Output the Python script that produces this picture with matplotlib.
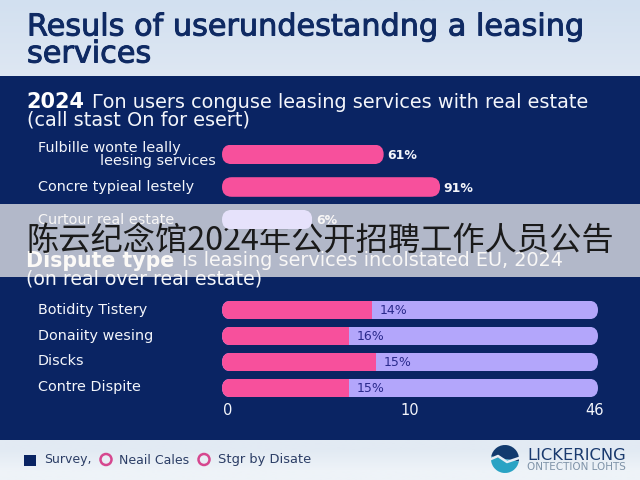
import numpy as np
import matplotlib
matplotlib.use("Agg")
import matplotlib.pyplot as plt
import matplotlib.patheffects as pe
from matplotlib.patches import FancyBboxPatch, Rectangle, Circle, Wedge
from matplotlib.transforms import IdentityTransform

W, H = 640, 480
NAVY = "#0a2463"; PINK = "#f7509c"; LAV = "#b3a6fb"; PALE = "#e6e2fb"; WHITE = "#f4f6fb"

title_lines = ["Resuls of userundestandng a leasing", "services"]
sub1_bold = "2024"
sub1_rest = "\u0393on users conguse leasing services with real estate"
sub1_line2 = "(call stast On for esert)"
cats1 = ["Fulbille wonte leally", "Concre typieal lestely", "Curtour real estate"]
vals1 = [43, 58, 24]
labels1 = ["61%", "91%", "6%"]
colors1 = [PINK, PINK, PALE]
sub2_bold = "Dispute type"
sub2_rest = "is leasing services incolstated EU, 2024"
sub2_line2 = "(on real over real estate)"
cats2 = ["Botidity Tistery", "Donaiity wesing", "Discks", "Contre Dispite"]
vals2 = [40, 33.8, 41, 33.8]
labels2 = ["14%", "16%", "15%", "15%"]
track2 = [100, 100, 100, 100]
ticks2 = [1.5, 50, 99]
ticklabels2 = ["0", "10", "46"]
legend_items = ["Survey,", "Neail Cales", "Stgr by Disate"]
banner = "陈云纪念馆2024年公开招聘工作人员公告"

fig = plt.figure(figsize=(6.4, 4.8), dpi=100)
plt.rcParams["font.family"] = ["DejaVu Sans"]

def axpx(x0, y0, x1, y1, **kw):
    return fig.add_axes([x0 / W, 1 - y1 / H, (x1 - x0) / W, (y1 - y0) / H], **kw)

bg = axpx(0, 0, W, H)
bg.set_xlim(0, W); bg.set_ylim(H, 0); bg.axis("off")
grad = np.linspace(0, 1, 64)[:, None, None] * (np.array([222, 231, 243]) - np.array([210, 224, 240])) + np.array([210, 224, 240])
bg.imshow(grad / 255, extent=(0, W, 76, 0), aspect="auto", zorder=0)
bg.imshow(np.array([[[226, 234, 243]], [[238, 243, 248]]]) / 255, extent=(0, W, H, 440), aspect="auto", zorder=0, interpolation="bilinear")
bg.set_xlim(0, W); bg.set_ylim(H, 0)
bg.add_patch(Rectangle((0, 76), W, 364, color=NAVY, zorder=1, lw=0))

def T(x, y, s, **kw):
    kw.setdefault("va", "center")
    return bg.text(x, y, s, zorder=3, **kw)

stroke = [pe.withStroke(linewidth=0.7, foreground="#0f2a63")]
t1 = T(27, 27, title_lines[0], fontsize=21.8, color="#0f2a63", path_effects=stroke)
t2 = T(27, 54, title_lines[1], fontsize=21.8, color="#0f2a63", path_effects=stroke)
SF = 13.9
T(26, 102, sub1_bold, fontsize=15, fontweight="bold", color="white")
T(92, 102, sub1_rest, fontsize=SF, color=WHITE)
T(27, 120, sub1_line2, fontsize=SF, color=WHITE)
T(26, 261, sub2_bold, fontsize=14.8, fontweight="bold", color="white")
T(182, 261, sub2_rest, fontsize=SF, color=WHITE)
T(26, 279, sub2_line2, fontsize=SF - 0.3, color=WHITE)

def rounded(ax, bars):
    fig.canvas.draw()
    for b in bars:
        (x0, y0), (x1, y1) = ax.transData.transform([(b.get_x(), b.get_y()), (b.get_x() + b.get_width(), b.get_y() + b.get_height())])
        ya, yb = min(y0, y1), max(y0, y1)
        r = (yb - ya) / 2
        clip = FancyBboxPatch((x0 + r, ya + r), x1 - x0 - 2 * r, 0, boxstyle=f"round,pad={r},rounding_size={r}", transform=IdentityTransform())
        b.set_clip_path(clip)

ax1 = axpx(222, 138, 598, 236)
ax1.set_xlim(0, 100); ax1.set_ylim(2.5, -0.5); ax1.axis("off")
b1 = ax1.barh(range(3), vals1, height=0.6, color=colors1, lw=0)
rounded(ax1, b1)
lab1x = [387, 443, 316]
for lab, lx, y in zip(labels1, lab1x, [155.5, 188, 220]):
    T(lx, y, lab, fontsize=9, fontweight="bold", color=WHITE)
LF = 10.4
T(38, 148, cats1[0], fontsize=LF, color=WHITE)
T(100, 161.5, "leesing services", fontsize=LF, color=WHITE)
T(38, 187, cats1[1], fontsize=LF, color=WHITE)
T(38, 220, cats1[2], fontsize=LF, color=WHITE)

ax2 = axpx(222, 297, 598, 401)
ax2.set_xlim(0, 100); ax2.set_ylim(3.5, -0.5); ax2.axis("off")
b2t = ax2.barh(range(4), track2, height=0.72, color=LAV, lw=0)
b2p = ax2.barh(range(4), vals2, height=0.72, color=PINK, lw=0)
rounded(ax2, b2t); rounded(ax2, b2p)
for b_t, b_p in zip(b2t, b2p):
    b_p.set_clip_path(b_t.get_clip_path())
for i, (lab, v) in enumerate(zip(labels2, vals2)):
    ax2.text(v + 2, i, lab, fontsize=9, color="#2a2a8c", va="center", ha="left")
for i, c in enumerate(cats2):
    T(38, [310, 336, 361, 387][i], c, fontsize=LF, color=WHITE)
for t, l in zip(ticks2, ticklabels2):
    ax2.text(t, 3.5 + 0.35, l, fontsize=10.5, color=WHITE, ha="center", va="center", clip_on=False)

# legend
LC = "#2c3e66"
bg.add_patch(Rectangle((24, 455), 12, 11, color=NAVY, zorder=3, lw=0))
T(44, 460, legend_items[0], fontsize=9, color=LC)
bg.add_patch(Circle((106, 459.5), 5.5, fc="#e8eef5", ec="#d6478f", lw=1.8, zorder=3))
T(119, 460, legend_items[1], fontsize=9, color=LC)
bg.add_patch(Circle((204, 459.5), 5.5, fc="#e8eef5", ec="#d6478f", lw=1.8, zorder=3))
T(218, 460, legend_items[2], fontsize=9.4, color=LC)
# logo (y axis is inverted, so the 190-370 degree wedge is the upper half)
bg.add_patch(Wedge((505, 459), 14, 190, 370, fc="#123a6e", lw=0, zorder=3))
bg.add_patch(Wedge((505, 459), 14, 10, 190, fc="#2aa3c4", lw=0, zorder=3))
bg.plot([491, 498, 507, 519], [459, 456, 462, 458], color="#e8eef5", lw=1.8, zorder=4)
T(527, 456, "LICKERICNG", fontsize=11.8, color="#1a3a6e", ha="left")
T(527, 467, "ONTECTION LOHTS", fontsize=7.5, color="#7f93a8", ha="left")

# banner
bg.add_patch(Rectangle((0, 204), W, 73, fc="#fbf8f5", alpha=0.7, lw=0, zorder=8))
bg.text(26, 241, banner, fontsize=23.2, color="#1a1a1a", va="center", zorder=9,
        family=["Noto Sans CJK SC", "DejaVu Sans"])

fig.savefig("out.png", dpi=100)
